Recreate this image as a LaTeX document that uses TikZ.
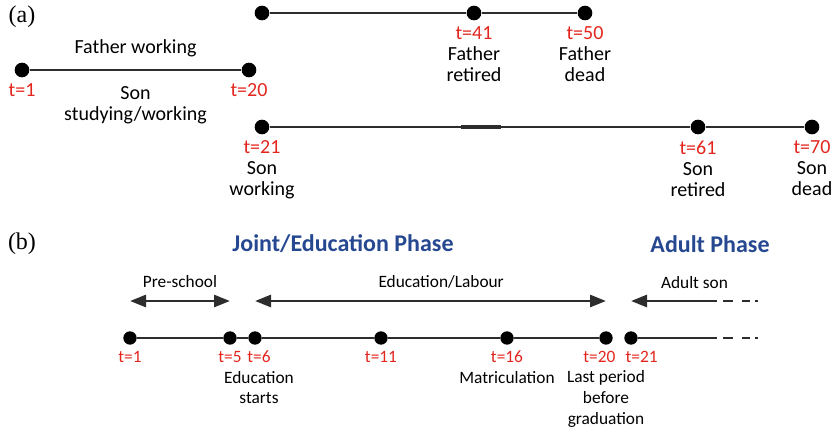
\documentclass[tikz,border=0pt]{standalone}
\usepackage{fontspec}
\setmainfont{Carlito}
\newfontfamily\partfont{Liberation Serif}
\usetikzlibrary{positioning,arrows.meta}

\definecolor{tred}{RGB}{226,38,30}
\definecolor{phaseblue}{RGB}{38,72,145}
\definecolor{rule}{RGB}{45,45,45}

\newcommand\tval[1]{\textcolor{tred}{#1}}

\tikzset{
  dot/.style={circle, fill=black, inner sep=0pt, minimum size=11pt},
  sdot/.style={dot, minimum size=10pt},
  life/.style={draw=rule, line width=1.5pt},
  stamp/.style={align=center, inner sep=0pt, font=\fontsize{15}{15.75}\selectfont},
  sstamp/.style={align=center, inner sep=0pt, font=\fontsize{13}{15.4}\selectfont},
  spanlab/.style={inner sep=0pt, text depth=0pt, font=\fontsize{13}{15.4}\selectfont},
  span/.style={draw=rule, line width=2pt, {Triangle[length=12pt,width=9pt]}-{Triangle[length=12pt,width=9pt]}},
  phase/.style={font=\fontsize{18}{20}\selectfont\bfseries, text=phaseblue},
  part/.style={font=\partfont\fontsize{18}{20}\selectfont},
  tail/.style={draw=rule, line width=1.5pt, dash pattern=on 0pt off 4.5pt on 7.5pt off 6.75pt on 6pt off 3.75pt on 2.25pt}
}

\begin{document}
\begin{tikzpicture}[x=0.75pt, y=-0.75pt]
  \useasboundingbox (0,0) rectangle (836,430);

  % (a) the two overlapping generations
  \node[part] (pa) at (22,17) {(a)};

  \node[dot] (f1) at (262,13) {};
  \node[dot] (f41) at (474,13) {};
  \node[dot] (f50) at (585,13) {};
  \draw[life] (f1) -- (f41) -- (f50);
  \node[stamp, below=4.5pt of f41] (l41) {\tval{t=41}\\Father\\retired};
  \node[stamp, below=4.5pt of f50] (l50) {\tval{t=50}\\Father\\dead};

  \node[dot] (j1) at (22,70) {};
  \node[dot] (j20) at (249,70) {};
  \draw[life] (j1) -- node[stamp, above=9pt] (fw) {Father working}
                      node[stamp, below=11.5pt] (sw) {Son\\studying/working} (j20);
  \node[stamp, below=4.5pt of j1] (lj1) {\tval{t=1}};
  \node[stamp, below=4.5pt of j20] (lj20) {\tval{t=20}};

  \node[dot] (s21) at (262,127) {};
  \node[dot] (s61) at (698,127) {};
  \node[dot] (s70) at (812,127) {};
  \draw[life] (s21) -- (s61) -- (s70);
  \draw[draw=rule, line width=2.4pt] (461,127) -- (501,127);
  \node[stamp, below=4.5pt of s21] (l21) {\tval{t=21}\\Son\\working};
  \node[stamp, below=4.5pt of s61] (l61) {\tval{t=61}\\Son\\retired};
  \node[stamp, below=4.5pt of s70] (l70) {\tval{t=70}\\Son\\dead};

  % (b) phases of the son's life
  \node[part] (pb) at (22,244) {(b)};
  \node[phase] (joint) at (343,244) {Joint/Education Phase};
  \node[phase] (adult) at (710,244) {Adult Phase};

  \foreach \t/\x in {1/130, 5/230, 6/255, 11/381, 16/507, 20/606, 21/631}
    \node[sdot] (b\t) at (\x,338) {};
  \coordinate (end) at (717,338);
  \coordinate (far) at (758,338);
  \draw[life] (b1) -- (b5) -- (b6) -- (b11) -- (b16) -- (b20);
  \draw[life] (b21) -- (end);
  \draw[tail] (end) -- (far);

  \foreach \t in {1,5,11}
    \node[sstamp, below=4.5pt of b\t] (lb\t) {\tval{t=\t}};
  \node[sstamp, below=4.5pt of b21, xshift=8pt] (lb21) {\tval{t=21}};
  \node[sstamp, below=4.5pt of b6, xshift=3pt] (lb6) {\tval{t=6}\\Education\\starts};
  \node[sstamp, below=4.5pt of b16] (lb16) {\tval{t=16}\\Matriculation};
  \node[sstamp, below=4.5pt of b20] (lb20) {\tval{t=20}\kern10pt\\Last period\\before\\graduation};

  % spans above the time line
  \coordinate (row) at (0,301);
  \draw[span] (b1 |- row) -- node[spanlab, above=9pt] (pre) {Pre-school} (b5 |- row);
  \draw[span] (b6 |- row) -- node[spanlab, above=9pt, xshift=8pt] (edu) {Education/Labour} (b20 |- row);
  \draw[draw=rule, line width=2pt, {Triangle[length=12pt,width=9pt]}-] (b21 |- row) -- (end |- row);
  \draw[tail] (end |- row) -- (far |- row);
  \path (b21 |- row) -- node[spanlab, above=9pt] (son) {Adult son} (far |- row);
\end{tikzpicture}
\end{document}
